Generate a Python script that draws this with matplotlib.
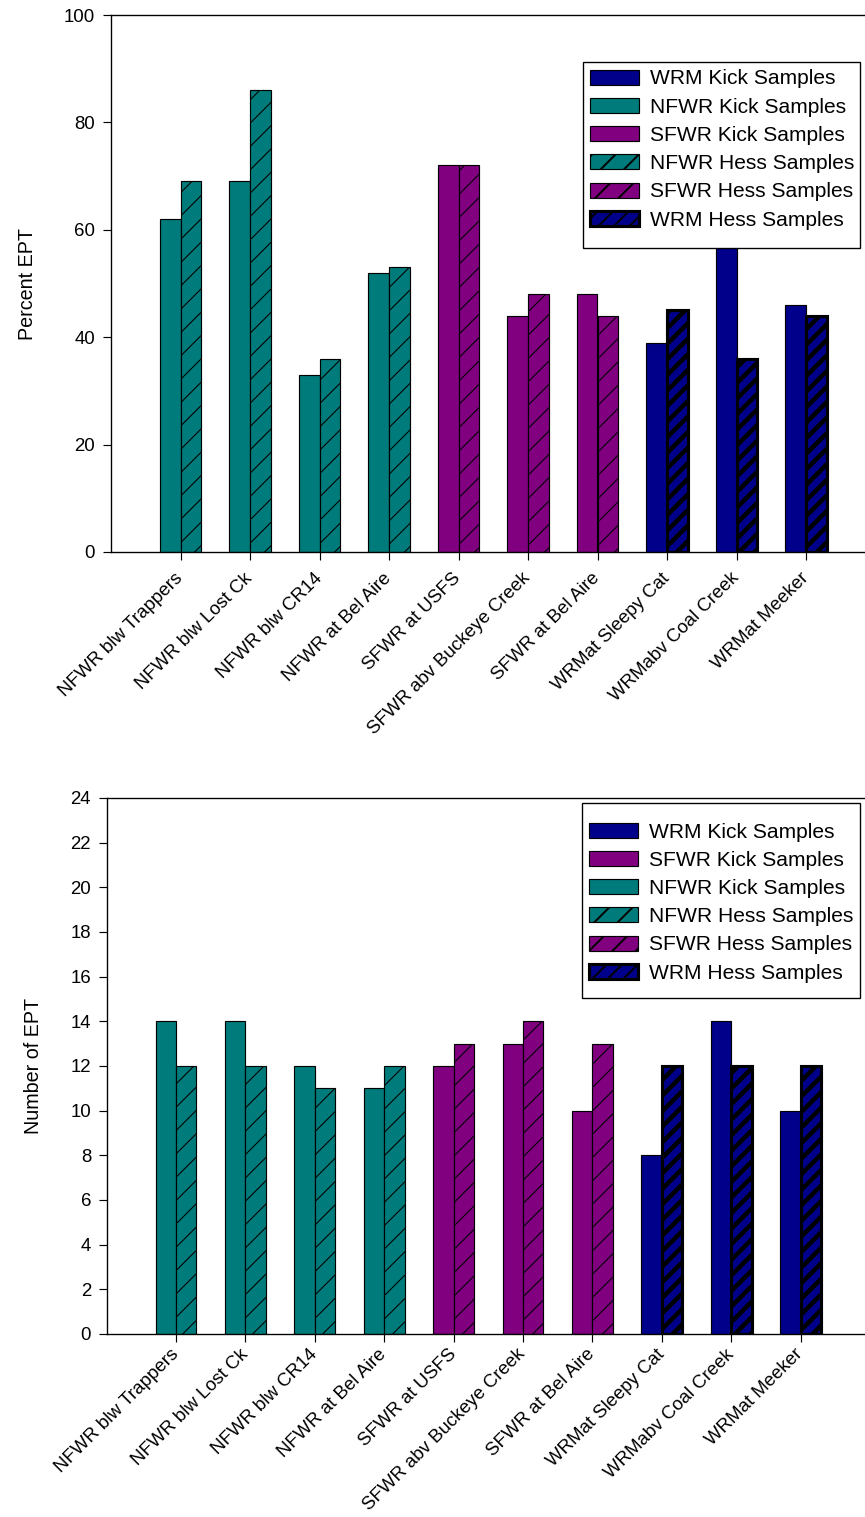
import matplotlib
matplotlib.use("Agg")
import matplotlib.pyplot as plt
from matplotlib.patches import Patch, Rectangle

# ---- data -------------------------------------------------------------
sites = ["NFWR blw Trappers", "NFWR blw Lost Ck", "NFWR blw CR14",
         "NFWR at Bel Aire", "SFWR at USFS", "SFWR abv Buckeye Creek",
         "SFWR at Bel Aire", "WRMat Sleepy Cat", "WRMabv Coal Creek",
         "WRMat Meeker"]
river = ["NFWR", "NFWR", "NFWR", "NFWR", "SFWR", "SFWR", "SFWR",
         "WRM", "WRM", "WRM"]

pct_kick = [62, 69, 33, 52, 72, 44, 48, 39, 60, 46]
pct_hess = [69, 86, 36, 53, 72, 48, 44, 45, 36, 44]

num_kick = [14, 14, 12, 11, 12, 13, 10, 8, 14, 10]
num_hess = [12, 12, 11, 12, 13, 14, 13, 12, 12, 12]

pct_ticks = [0, 20, 40, 60, 80, 100]
num_ticks = list(range(0, 25, 2))

# ---- styling ----------------------------------------------------------
COLORS = {"NFWR": "#007b7b", "SFWR": "#800080", "WRM": "#00008a"}
DPI = 140
FW, FH = 865, 1517
plt.rcParams["font.family"] = ["Liberation Sans", "DejaVu Sans"]
TICK_FS = 9.6
LEG_FS = 10.8
LAB_FS = 10.2
W = 0.295


def fx(px):
    return px / FW


def fy(py):
    return 1 - py / FH


def draw_panel(fig, ax, kick, hess, ticks, ylabel, legend_order, xlim,
               box, first_row, xpad):
    x = list(range(len(sites)))
    handles = {}
    for r in ["NFWR", "SFWR", "WRM"]:
        idx = [i for i in x if river[i] == r]
        ax.bar([i - W / 2 for i in idx], [kick[i] for i in idx], width=W,
               color=COLORS[r], edgecolor="black", linewidth=0.6, zorder=2)
        handles[f"{r} Kick Samples"] = Patch(facecolor=COLORS[r],
                                             edgecolor="black", linewidth=0.6)
    for r in ["NFWR", "SFWR", "WRM"]:
        idx = [i for i in x if river[i] == r]
        heavy = r == "WRM"
        hlw = 2.3 if heavy else 0.55
        hatch = "///" if heavy else "//"
        elw = 1.6 if heavy else 0.6
        with plt.rc_context({"hatch.linewidth": hlw}):
            bars = ax.bar([i + W / 2 for i in idx], [hess[i] for i in idx],
                          width=W, color=COLORS[r], edgecolor="black",
                          linewidth=elw, hatch=hatch, zorder=2)
            h = Patch(facecolor=COLORS[r], edgecolor="black",
                      linewidth=elw, hatch=hatch)
        for b in list(bars) + [h]:
            if hasattr(b, "set_hatch_linewidth"):
                b.set_hatch_linewidth(hlw)
        handles[f"{r} Hess Samples"] = h

    ax.set_xlim(*xlim)
    ax.set_ylim(ticks[0], ticks[-1])
    ax.set_yticks(ticks)
    ax.set_xticks(x)
    ax.set_xticklabels(sites, rotation=45, ha="right", va="center",
                       rotation_mode="anchor", fontsize=TICK_FS)
    ax.tick_params(axis="y", direction="out", length=4.2, width=0.6,
                   labelsize=TICK_FS, pad=4)
    ax.tick_params(axis="x", direction="out", length=4.2, width=0.6, pad=xpad)
    ax.spines["right"].set_visible(False)
    for s in ["left", "top", "bottom"]:
        ax.spines[s].set_linewidth(0.7)
    ax.set_ylabel(ylabel, fontsize=LAB_FS, labelpad=14)

    # legend box (white, black outline) with the entries laid over it
    x0, y0, x1, y1 = box
    fig.add_artist(Rectangle((fx(x0), fy(y1)), fx(x1) - fx(x0),
                             (y1 - y0) / FH, transform=fig.transFigure,
                             facecolor="white", edgecolor="black",
                             linewidth=0.7, zorder=4))
    leg = fig.legend([handles[k] for k in legend_order], legend_order,
                     loc="upper left",
                     bbox_to_anchor=(fx(x0 + 7), fy(first_row - 7.5)),
                     bbox_transform=fig.transFigure,
                     fontsize=LEG_FS, frameon=False,
                     handlelength=2.35, handleheight=0.72, handletextpad=0.5,
                     labelspacing=0.44, borderpad=0, borderaxespad=0)
    leg.set_zorder(5)
    return leg


fig = plt.figure(figsize=(FW / DPI, FH / DPI), dpi=DPI)

# upper panel: percent EPT
ax1 = fig.add_axes([fx(111), fy(552), 1 - fx(111), 537 / FH])
draw_panel(fig, ax1, pct_kick, pct_hess, pct_ticks, "Percent EPT",
           ["WRM Kick Samples", "NFWR Kick Samples",
            "SFWR Kick Samples", "NFWR Hess Samples",
            "SFWR Hess Samples", "WRM Hess Samples"],
           (-1.0, -1.0 + (FW - 111) / 69.5),
           (583, 62, 860, 248), 77, 8)

# lower panel: number of EPT taxa
ax2 = fig.add_axes([fx(107), fy(1334), 1 - fx(107), 536 / FH])
draw_panel(fig, ax2, num_kick, num_hess, num_ticks, "Number of EPT",
           ["WRM Kick Samples", "SFWR Kick Samples",
            "NFWR Kick Samples", "NFWR Hess Samples",
            "SFWR Hess Samples", "WRM Hess Samples"],
           (-0.994, -0.994 + (FW - 107) / 69.4),
           (582, 803, 860, 998), 830, 5)

fig.savefig("out.png", dpi=DPI, facecolor="white")
